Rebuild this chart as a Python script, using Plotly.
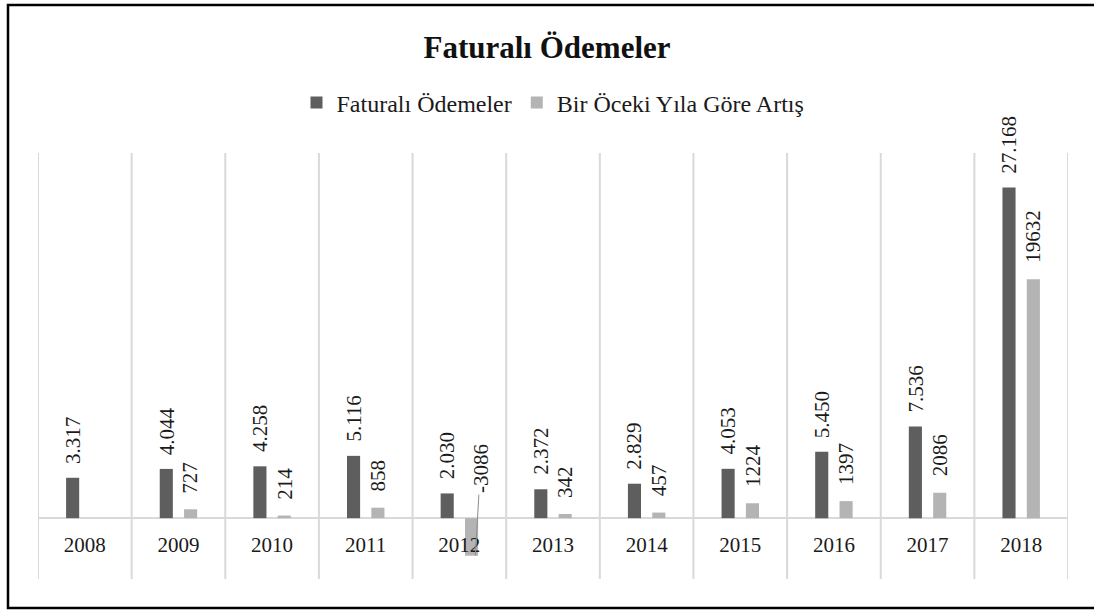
import plotly.graph_objects as go

years = ["2008", "2009", "2010", "2011", "2012", "2013", "2014", "2015", "2016", "2017", "2018"]
faturali = [3317, 4044, 4258, 5116, 2030, 2372, 2829, 4053, 5450, 7536, 27168]
artis = [None, 727, 214, 858, -3086, 342, 457, 1224, 1397, 2086, 19632]

DARK = "#5e5e5e"
LIGHT = "#b4b4b4"
GRID = "#d9d9d9"
FONT = "Liberation Serif, Times New Roman, serif"


def tr_fmt(v):
    return f"{v:,}".replace(",", ".")


fig = go.Figure()
fig.add_trace(go.Bar(
    x=years, y=faturali, name="Faturalı Ödemeler",
    marker=dict(color=DARK, line=dict(width=0)),
    width=0.14, offset=-0.20, hoverinfo="x+y",
))
fig.add_trace(go.Bar(
    x=years, y=artis, name="Bir Öceki Yıla Göre Artış",
    marker=dict(color=LIGHT, line=dict(width=0)),
    width=0.14, offset=0.06, hoverinfo="x+y",
))

LABEL_FONT = dict(family=FONT, size=21, color="#1a1a1a")
annotations = []
for i, v in enumerate(faturali):
    annotations.append(dict(
        x=i, y=v, xref="x", yref="y", text=tr_fmt(v), textangle=-90,
        showarrow=False, xanchor="center", yanchor="bottom",
        xshift=-12, yshift=12, font=LABEL_FONT,
    ))
for i, v in enumerate(artis):
    if v is None:
        continue
    if v >= 0:
        annotations.append(dict(
            x=i, y=v, xref="x", yref="y", text=str(v), textangle=-90,
            showarrow=False, xanchor="center", yanchor="bottom",
            xshift=12, yshift=14, font=LABEL_FONT,
        ))
    else:
        annotations.append(dict(
            x=i, y=v, xref="x", yref="y", text=str(v), textangle=-90,
            showarrow=True, arrowhead=0, arrowwidth=1, arrowcolor="#8c8c8c",
            ax=5, ay=-87, standoff=0, xshift=16, font=LABEL_FONT,
        ))

shapes = []
for i in range(len(years) + 1):
    shapes.append(dict(
        type="line", xref="x", yref="y domain", x0=i - 0.5, x1=i - 0.5, y0=0, y1=1,
        line=dict(color=GRID, width=2), layer="below",
    ))
# outer chart border
shapes.append(dict(
    type="rect", xref="paper", yref="paper",
    x0=(8 - 38) / 1030, x1=(1120 - 38) / 1030, y0=(579 - 608) / 426, y1=(579 - 5) / 426,
    line=dict(color="black", width=2.5), fillcolor="rgba(0,0,0,0)", layer="above",
))

fig.update_layout(
    width=1094, height=610,
    margin=dict(l=38, r=26, t=153, b=31),
    paper_bgcolor="white", plot_bgcolor="white",
    barmode="overlay",
    font=dict(family=FONT, color="#1a1a1a"),
    title=dict(
        text="<b>Faturalı Ödemeler</b>", x=0.5, xanchor="center",
        yref="container", y=1 - 47 / 610, yanchor="middle",
        font=dict(family=FONT, size=31, color="#111111"),
    ),
    legend=dict(
        orientation="h", x=0.5, xanchor="center",
        yref="container", y=1 - 103 / 610, yanchor="middle",
        font=dict(family=FONT, size=24, color="#1a1a1a"),
        itemwidth=30, traceorder="normal",
    ),
    xaxis=dict(
        type="category", anchor="free", position=5000 / 35000,
        showgrid=False, showline=False, zeroline=False, ticks="",
        tickfont=dict(family=FONT, size=21, color="#1a1a1a"),
        ticklabelstandoff=12,
        range=[-0.5, len(years) - 0.5],
    ),
    yaxis=dict(
        range=[-5000, 30000], showgrid=False, showticklabels=False,
        zeroline=True, zerolinecolor=GRID, zerolinewidth=2, showline=False, ticks="",
    ),
    annotations=annotations,
    shapes=shapes,
    showlegend=True,
)

fig.write_html("out.html", config={"displayModeBar": False},
               post_script="document.body.style.margin='0px';")
